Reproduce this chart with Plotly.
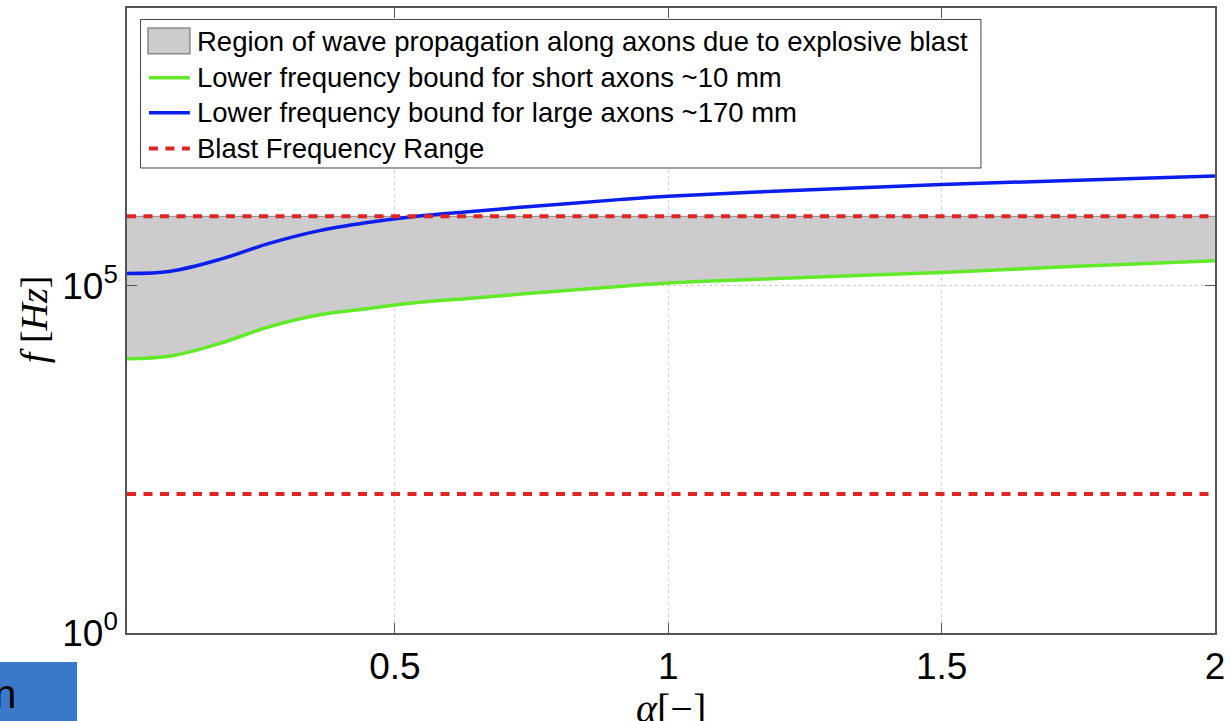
import plotly.graph_objects as go

# ---- data ----
alpha = [0.01, 0.09, 0.18, 0.27, 0.36, 0.45, 0.54, 0.64, 0.73, 0.91, 1.0, 1.25, 1.5, 1.75, 2.0]
f_large = [1.50e5, 1.62e5, 2.40e5, 4.07e5, 6.17e5, 8.13e5, 1.0e6, 1.175e6, 1.35e6,
           1.74e6, 1.95e6, 2.40e6, 2.88e6, 3.31e6, 3.80e6]
f_short = [8.91e3, 9.77e3, 1.48e4, 2.57e4, 3.80e4, 4.68e4, 5.75e4, 6.61e4, 7.59e4,
           9.77e4, 1.10e5, 1.32e5, 1.55e5, 1.91e5, 2.29e5]
blast_low = 1e2
blast_high = 1e6
x_range = [0.01, 2.0]
x_ticks = [0.5, 1, 1.5, 2]
x_ticktext = ["0.5", "1", "1.5", "2"]
y_ticks = [1, 1e5]
y_ticktext = ["10<sup>0</sup>", "10<sup>5</sup>"]

names = [
    "Region of wave propagation along axons due to explosive blast",
    "Lower frequency bound for short axons ~10 mm",
    "Lower frequency bound for large axons ~170 mm",
    "Blast Frequency Range",
]

GREEN = "#62EA2A"
BLUE = "#0A1EEE"
RED = "#E02525"
GRAY = "#CCCCCC"
DASH = "9px,7.5px"

W, H = 1231, 721
L, R, T, B = 127, 14, 6, 88
pw, ph = W - L - R, H - T - B


def px(xp):
    return (xp - L) / pw


def py(yp):
    return (H - B - yp) / ph


fig = go.Figure()

# shaded region between short-axon bound and the upper blast frequency
fig.add_trace(go.Scatter(
    x=alpha, y=[blast_high] * len(alpha), mode="lines",
    line=dict(color="#8A8A8A", width=1), showlegend=False, hoverinfo="skip"))
fig.add_trace(go.Scatter(
    x=alpha, y=f_short, mode="lines", fill="tonexty", fillcolor=GRAY,
    line=dict(color="#8A8A8A", width=1, shape="spline"),
    name=names[0], showlegend=False, hoverinfo="skip"))

fig.add_trace(go.Scatter(
    x=alpha, y=f_short, mode="lines", name=names[1], showlegend=False,
    line=dict(color=GREEN, width=3.5, shape="spline")))
fig.add_trace(go.Scatter(
    x=alpha, y=f_large, mode="lines", name=names[2], showlegend=False,
    line=dict(color=BLUE, width=3.5, shape="spline")))
for yv in (blast_high, blast_low):
    fig.add_trace(go.Scatter(
        x=x_range, y=[yv, yv], mode="lines", name=names[3], showlegend=False,
        line=dict(color=RED, width=4, dash=DASH)))

fig.update_layout(
    width=W, height=H,
    margin=dict(l=L, r=R, t=T, b=B, pad=0),
    paper_bgcolor="white", plot_bgcolor="white",
    font=dict(family="Liberation Sans, Arial, sans-serif", color="black"),
    showlegend=False,
    xaxis=dict(
        range=x_range, tickvals=x_ticks, ticktext=x_ticktext,
        ticks="inside", ticklen=10, tickcolor="#555555", tickwidth=1,
        showline=True, linecolor="#555555", linewidth=1.5, mirror="ticks",
        showgrid=True, gridcolor="#D0D0D0", griddash="dot", gridwidth=1,
        zeroline=False,
        tickfont=dict(size=37, family="Liberation Sans, Arial, sans-serif"),
    ),
    yaxis=dict(
        type="log", range=[0, 9], tickvals=y_ticks, ticktext=y_ticktext,
        ticks="inside", ticklen=10, tickcolor="#555555", tickwidth=1,
        showline=True, linecolor="#555555", linewidth=1.5, mirror="ticks",
        showgrid=True, gridcolor="#D0D0D0", griddash="dot", gridwidth=1,
        zeroline=False,
        tickfont=dict(size=37, family="Liberation Sans, Arial, sans-serif"),
    ),
)

# ---- legend box (drawn on top of the plot) ----
fig.add_shape(type="rect", xref="paper", yref="paper", layer="above",
              x0=px(140.5), x1=px(982.5), y0=py(17.5), y1=py(166.5),
              fillcolor="white", line=dict(color="#444444", width=1))
rows_y = [40, 76, 111, 147]
# region swatch
fig.add_shape(type="rect", xref="paper", yref="paper", layer="above",
              x0=px(148), x1=px(190), y0=py(26), y1=py(52),
              fillcolor=GRAY, line=dict(color="#8A8A8A", width=1.5))
for yy, col, dash in [(rows_y[1], GREEN, "solid"), (rows_y[2], BLUE, "solid"),
                      (rows_y[3], RED, DASH)]:
    fig.add_shape(type="line", xref="paper", yref="paper", layer="above",
                  x0=px(149), x1=px(190), y0=py(yy), y1=py(yy),
                  line=dict(color=col, width=3.5 if dash == "solid" else 4, dash=dash))
for yy, nm in zip(rows_y, names):
    fig.add_annotation(
        x=px(195), y=py(yy), xref="paper", yref="paper", showarrow=False,
        xanchor="left", yanchor="middle", text=nm,
        font=dict(size=27.5, family="Liberation Sans, Arial, sans-serif", color="black"))

# ---- axis titles ----
fig.add_annotation(
    x=px(34), y=py(318), xref="paper", yref="paper", showarrow=False,
    xanchor="center", yanchor="middle",
    text="<i>f</i> [<i>Hz</i>]", textangle=-90,
    font=dict(size=38, family="Liberation Serif, DejaVu Serif, serif", color="black"))
fig.add_annotation(
    x=px(672), y=py(709), xref="paper", yref="paper", showarrow=False,
    xanchor="center", yanchor="middle",
    text="<i>α</i>[−]",
    font=dict(size=40, family="Liberation Serif, DejaVu Serif, serif", color="black"))

# ---- slide artifact at bottom-left ----
fig.add_shape(type="rect", xref="paper", yref="paper",
              x0=px(-2), x1=px(77), y0=py(662), y1=py(724),
              fillcolor="#3A78C8", line=dict(width=0), layer="above")
fig.add_annotation(
    x=px(18), y=py(694), xref="paper", yref="paper", showarrow=False,
    xanchor="right", yanchor="middle", text="n",
    font=dict(size=40, family="Liberation Sans, Arial, sans-serif", color="black"))

fig.write_html("out.html")
